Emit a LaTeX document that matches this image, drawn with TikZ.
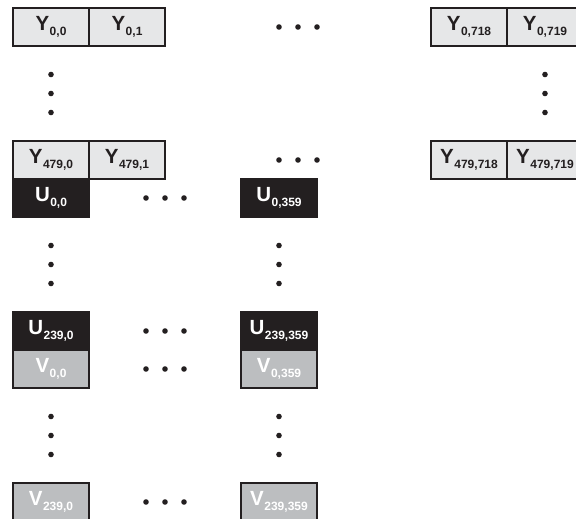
\documentclass[tikz,border=0pt]{standalone}
\usepackage{fontspec}
\setmainfont{Liberation Sans}
\usetikzlibrary{calc}
\definecolor{ink}{HTML}{231F20}
\definecolor{lumagray}{HTML}{E6E7E8}
\definecolor{chromagray}{HTML}{BCBEC0}
\newcommand{\pix}[2]{\textbf{{\fontsize{20.5}{20.5}\selectfont #1}\kern0.5pt\raisebox{-4.5pt}{\fontsize{12}{12}\selectfont #2}}}
\tikzset{
    cell/.style={draw=ink, line width=1.2pt, minimum width=76pt, minimum height=38pt, inner sep=0pt, text=ink},
    ycell/.style={cell, fill=lumagray},
    ucell/.style={cell, fill=ink, text=white},
    vcell/.style={cell, fill=chromagray, text=white}
}
\begin{document}
\begin{tikzpicture}[x=1pt,y=-1pt]
                \useasboundingbox (0,0) rectangle (576,519);
                % luma plane
                \node[ycell] (y00) at (51,27) {\pix{Y}{0,0}};
                \node[ycell] (y01) at (127,27) {\pix{Y}{0,1}};
                \node[ycell] (y0718) at (469,27) {\pix{Y}{0,718}};
                \node[ycell] (y0719) at (545,27) {\pix{Y}{0,719}};
                \node[ycell] (y4790) at (51,160) {\pix{Y}{479,0}};
                \node[ycell] (y4791) at (127,160) {\pix{Y}{479,1}};
                \node[ycell] (y479718) at (469,160) {\pix{Y}{479,718}};
                \node[ycell] (y479719) at (545,160) {\pix{Y}{479,719}};
                % chroma planes
                \node[ucell] (u00) at (51,198) {\pix{U}{0,0}};
                \node[ucell] (u0359) at (279,198) {\pix{U}{0,359}};
                \node[ucell] (u2390) at (51,331) {\pix{U}{239,0}};
                \node[ucell] (u239359) at (279,331) {\pix{U}{239,359}};
                \node[vcell] (v00) at (51,369) {\pix{V}{0,0}};
                \node[vcell] (v0359) at (279,369) {\pix{V}{0,359}};
                \node[vcell] (v2390) at (51,502) {\pix{V}{239,0}};
                \node[vcell] (v239359) at (279,502) {\pix{V}{239,359}};
                % ellipses
                \foreach \a/\b in {y01/y0718,y4791/y479718,u00/u0359,u2390/u239359,v00/v0359,v2390/v239359}
                    \foreach \d in {-19,0,19}
                        \fill[ink] ($(\a)!0.5!(\b)$) ++(\d,0) circle (2.8);
                \foreach \a/\b in {y00/y4790,y0719/y479719,u00/u2390,u0359/u239359,v00/v2390,v0359/v239359}
                    \foreach \d in {-19,0,19}
                        \fill[ink] ($(\a)!0.5!(\b)$) ++(0,\d) circle (2.8);
\end{tikzpicture}
\end{document}
